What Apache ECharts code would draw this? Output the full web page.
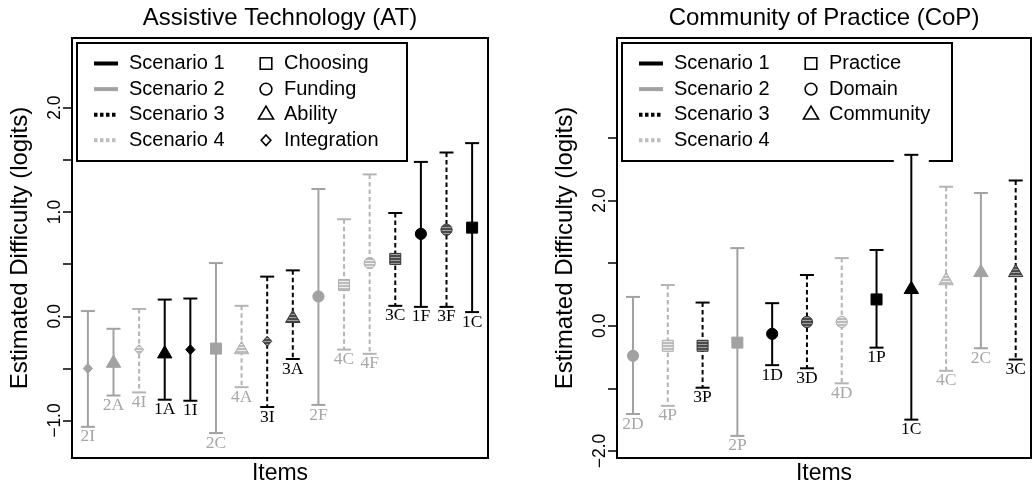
<!DOCTYPE html>
<html>
<head>
<meta charset="utf-8">
<script src="https://cdn.jsdelivr.net/npm/echarts@6/dist/echarts.min.js"></script>
<style>
  html, body { margin: 0; padding: 0; background: #fff; }
  #chart { width: 1033px; height: 487px; }
</style>
</head>
<body>
<div id="chart"></div>
<script>
// ---- Assistive Technology (AT): item codes in plotted order, estimates and interval bounds (logits)
const atItems    = ['2I', '2A', '4I', '1A', '1I', '2C', '4A', '3I', '3A', '2F', '4C', '4F', '3C', '1F', '3F', '1C'];
const atEstimate = [-0.50, -0.45, -0.32, -0.36, -0.32, -0.31, -0.32, -0.24, -0.02, 0.19, 0.30, 0.51, 0.55, 0.79, 0.83, 0.85];
const atLower    = [-1.06, -0.76, -0.73, -0.80, -0.81, -1.12, -0.68, -0.87, -0.41, -0.85, -0.32, -0.36, 0.10, 0.09, 0.09, 0.04];
const atUpper    = [0.05, -0.12, 0.07, 0.16, 0.17, 0.51, 0.10, 0.38, 0.44, 1.22, 0.93, 1.36, 0.99, 1.48, 1.57, 1.66];

// ---- Community of Practice (CoP)
const copItems    = ['2D', '4P', '3P', '2P', '1D', '3D', '4D', '1P', '1C', '4C', '2C', '3C'];
const copEstimate = [-0.48, -0.32, -0.32, -0.27, -0.13, 0.06, 0.06, 0.42, 0.58, 0.72, 0.85, 0.85];
const copLower    = [-1.41, -1.28, -0.99, -1.76, -0.63, -0.68, -0.92, -0.35, -1.50, -0.72, -0.36, -0.54];
const copUpper    = [0.46, 0.65, 0.37, 1.24, 0.36, 0.81, 1.08, 1.21, 2.73, 2.22, 2.12, 2.32];

// ---- legend entries and item-type codes
const scenarioNames = ['Scenario 1', 'Scenario 2', 'Scenario 3', 'Scenario 4'];
const atTypeNames   = ['Choosing', 'Funding', 'Ability', 'Integration'];
const atTypeCodes   = ['C', 'F', 'A', 'I'];
const copTypeNames  = ['Practice', 'Domain', 'Community'];
const copTypeCodes  = ['P', 'D', 'C'];
const typeShapes    = ['square', 'circle', 'triangle', 'diamond'];

// ---- axis ticks
const atTicks       = [-1, -0.5, 0, 0.5, 1, 1.5, 2];
const atTickLabels  = [-1, 0, 1, 2];
const copTicks      = [-2, -1, 0, 1, 2, 3];
const copTickLabels = [-2, 0, 2];

const SANS  = '"Liberation Sans", Arial, Helvetica, sans-serif';
const SERIF = '"Liberation Serif", "Times New Roman", serif';

// horizontal-stripe fill used for the hatched markers
function stripes(base, line) {
  const c = document.createElement('canvas');
  c.width = 4; c.height = 3;
  const g = c.getContext('2d');
  g.fillStyle = base; g.fillRect(0, 0, 4, 3);
  g.fillStyle = line; g.fillRect(0, 2, 4, 1);
  return { image: c, repeat: 'repeat' };
}

const scenarioStyle = [
  { line: '#000000', dash: null,   fill: '#000000', stroke: '#000000', text: '#000000', key: '#000000' },
  { line: '#a2a2a2', dash: null,   fill: '#a2a2a2', stroke: '#a2a2a2', text: '#a6a6a6', key: '#a2a2a2' },
  { line: '#000000', dash: [4.5, 3], fill: stripes('#4a4a4a', '#a0a0a0'), stroke: '#333333', text: '#000000', key: '#000000' },
  { line: '#b4b4b4', dash: [4.5, 3], fill: stripes('#bcbcbc', '#eeeeee'), stroke: '#acacac', text: '#a8a8a8', key: '#bdbdbd' }
];

function fmtTick(v) {
  const s = Math.abs(v).toFixed(1);
  return v < 0 ? '\u2212' + s : s;
}

// marker geometry centred on (cx, cy)
function markerShape(kind, cx, cy, k) {
  k = k || 1;
  if (kind === 'square') return { type: 'rect', shape: { x: cx - 5.5 * k, y: cy - 5.5 * k, width: 11 * k, height: 11 * k } };
  if (kind === 'circle') return { type: 'circle', shape: { cx: cx, cy: cy, r: 5.6 * k } };
  if (kind === 'triangle') return { type: 'polygon', shape: { points: [[cx, cy - 8.2 * k], [cx + 7.2 * k, cy + 4.1 * k], [cx - 7.2 * k, cy + 4.1 * k]] } };
  return { type: 'polygon', shape: { points: [[cx, cy - 5 * k], [cx + 4.6 * k, cy], [cx, cy + 5 * k], [cx - 4.6 * k, cy]] } };
}

function makeRender(items, typeCodes) {
  return function (params, api) {
    const code = items[params.dataIndex];
    const st = scenarioStyle[+code[0] - 1];
    const kind = typeShapes[typeCodes.indexOf(code[1])];
    const x = api.value(0);
    const p  = api.coord([x, api.value(1)]);
    const lo = api.coord([x, api.value(2)]);
    const hi = api.coord([x, api.value(3)]);
    const ls = { stroke: st.line, lineWidth: 2, lineDash: st.dash };
    const cap = 7;
    const mk = markerShape(kind, p[0], p[1]);
    mk.style = { fill: st.fill, stroke: st.stroke, lineWidth: 1 };
    return {
      type: 'group',
      children: [
        { type: 'line', shape: { x1: p[0], y1: hi[1], x2: p[0], y2: lo[1] }, style: ls },
        { type: 'line', shape: { x1: p[0] - cap, y1: hi[1], x2: p[0] + cap, y2: hi[1] }, style: { stroke: st.line, lineWidth: 2 } },
        { type: 'line', shape: { x1: p[0] - cap, y1: lo[1], x2: p[0] + cap, y2: lo[1] }, style: { stroke: st.line, lineWidth: 2 } },
        mk,
        { type: 'text', x: p[0], y: lo[1] + 1, style: { text: code, fill: st.text, font: '17.5px ' + SERIF, align: 'center', verticalAlign: 'top' } }
      ]
    };
  };
}

// boxed two-column key drawn inside a panel
function legendElements(gx, gy, typeNames) {
  const bx = gx + 5, by = gy + 5;
  const els = [{
    type: 'rect', z: 1,
    shape: { x: bx, y: by, width: 330, height: 118 },
    style: { fill: '#fff', stroke: '#000', lineWidth: 2 }
  }];
  scenarioNames.forEach(function (name, i) {
    const y = by + 20.5 + i * 25.6;
    const st = scenarioStyle[i];
    els.push({ type: 'line', z: 1, shape: { x1: bx + 17, y1: y, x2: bx + 41, y2: y },
      style: { stroke: st.key, lineWidth: 4, lineDash: st.dash ? [3.5, 2.5] : null } });
    els.push({ type: 'text', z: 1, x: bx + 52, y: y,
      style: { text: name, fill: '#000', font: '20px ' + SANS, verticalAlign: 'middle' } });
    if (i < typeNames.length) {
      const m = markerShape(typeShapes[i], bx + 189, y, 1.05);
      m.z = 1;
      m.style = { fill: 'none', stroke: '#000', lineWidth: 1.6 };
      els.push(m);
      els.push({ type: 'text', z: 1, x: bx + 207, y: y,
        style: { text: typeNames[i], fill: '#000', font: '20px ' + SANS, verticalAlign: 'middle' } });
    }
  });
  return els;
}

const grids = [
  { left: 72, top: 38, width: 416, height: 420 },
  { left: 617, top: 38, width: 414, height: 420 }
];

function yAxisFor(gi, min, max, ticks, labels) {
  return {
    gridIndex: gi, type: 'value', min: min, max: max,
    splitLine: { show: false },
    axisLine: { show: true, lineStyle: { color: '#000', width: 2 } },
    axisTick: { show: true, inside: false, length: 9, customValues: ticks, lineStyle: { color: '#000', width: 1.5 } },
    axisLabel: { customValues: labels, rotate: 90, margin: 8, formatter: fmtTick, fontSize: 17.5, color: '#000', fontFamily: SANS },
    name: 'Estimated Difficulty (logits)', nameLocation: 'middle', nameGap: 40, nameMoveOverlap: false,
    nameTextStyle: { fontSize: 24, color: '#000', fontFamily: SANS }
  };
}

function xAxisFor(gi, min, max) {
  return {
    gridIndex: gi, type: 'value', min: min, max: max,
    splitLine: { show: false }, axisLine: { show: false }, axisTick: { show: false }, axisLabel: { show: false },
    name: 'Items', nameLocation: 'middle', nameGap: 4, nameMoveOverlap: false,
    nameTextStyle: { fontSize: 23, color: '#000', fontFamily: SANS }
  };
}

const atData  = atItems.map(function (c, i) { return [i + 1, atEstimate[i], atLower[i], atUpper[i]]; });
const copData = copItems.map(function (c, i) { return [i + 1, copEstimate[i], copLower[i], copUpper[i]]; });

const chart = echarts.init(document.getElementById('chart'), null, { renderer: 'canvas' });
const legendEls = legendElements(grids[0].left, grids[0].top, atTypeNames)
  .concat(legendElements(grids[1].left, grids[1].top, copTypeNames));

chart.setOption({
  animation: false,
  backgroundColor: '#fff',
  title: [
    { text: 'Assistive Technology (AT)', left: grids[0].left + grids[0].width / 2 - 5, top: 1, textAlign: 'center',
      textStyle: { fontSize: 24, fontWeight: 'normal', color: '#000', fontFamily: SANS } },
    { text: 'Community of Practice (CoP)', left: grids[1].left + grids[1].width / 2 - 5, top: 1, textAlign: 'center',
      textStyle: { fontSize: 24, fontWeight: 'normal', color: '#000', fontFamily: SANS } }
  ],
  grid: grids.map(function (g) {
    return Object.assign({ show: true, borderColor: '#000', borderWidth: 2, backgroundColor: 'transparent',
      containLabel: false, outerBoundsMode: 'none' }, g);
  }),
  xAxis: [xAxisFor(0, 0.38, 16.62), xAxisFor(1, 0.54, 12.44)],
  yAxis: [yAxisFor(0, -1.359, 2.668, atTicks, atTickLabels), yAxisFor(1, -2.113, 4.596, copTicks, copTickLabels)],
  graphic: { elements: legendEls },
  series: [
    { type: 'custom', name: 'AT', xAxisIndex: 0, yAxisIndex: 0, data: atData, encode: { x: 0, y: [1, 2, 3] },
      renderItem: makeRender(atItems, atTypeCodes), clip: false, silent: true, z: 2 },
    { type: 'custom', name: 'CoP', xAxisIndex: 1, yAxisIndex: 1, data: copData, encode: { x: 0, y: [1, 2, 3] },
      renderItem: makeRender(copItems, copTypeCodes), clip: false, silent: true, z: 2 }
  ]
});

// white break in the CoP key's lower border where the tallest interval crosses it
(function () {
  let top = 0, idx = 0;
  copUpper.forEach(function (v, i) { if (v > top) { top = v; idx = i; } });
  const px = chart.convertToPixel({ gridIndex: 1 }, [idx + 1, top]);
  const keyBottom = grids[1].top + 5 + 118;
  chart.setOption({
    graphic: { elements: legendEls.concat([{
      type: 'rect', z: 1.5,
      shape: { x: px[0] - 17.5, y: keyBottom - 3, width: 35, height: 6 },
      style: { fill: '#fff' }
    }]) }
  });
})();
</script>
</body>
</html>
